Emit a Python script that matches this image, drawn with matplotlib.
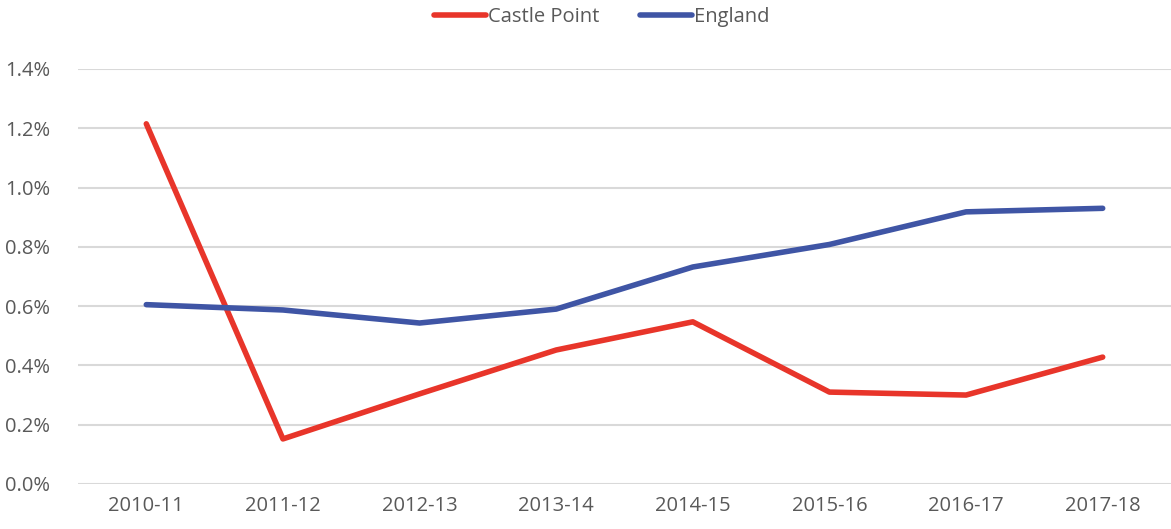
import matplotlib
matplotlib.use("Agg")
from matplotlib import pyplot as plt
from matplotlib.ticker import FuncFormatter

years = ["2010-11", "2011-12", "2012-13", "2013-14", "2014-15", "2015-16", "2016-17", "2017-18"]
castle_point = [1.215, 0.152, 0.304, 0.452, 0.547, 0.310, 0.300, 0.428]
england = [0.605, 0.587, 0.543, 0.590, 0.732, 0.808, 0.918, 0.930]

plt.rcParams['font.family'] = ['Open Sans', 'DejaVu Sans']
text_col = '#595959'

fig = plt.figure(figsize=(11.71, 5.29), dpi=100)
ax = fig.add_axes([0.0666, 0.0851, 0.9334, 0.7845])

x = range(len(years))
ax.plot(x, castle_point, color='#e8352a', lw=4, label="Castle Point", solid_capstyle='round')
ax.plot(x, england, color='#3f55a5', lw=4, label="England", solid_capstyle='round')

ax.set_xlim(-0.5, len(years) - 0.5)
ax.set_ylim(0, 1.4)
ax.set_yticks([i * 0.2 for i in range(8)])
ax.yaxis.set_major_formatter(FuncFormatter(lambda v, p: f"{v:.1f}%"))
ax.set_xticks(list(x))
ax.set_xticklabels(years)

ax.grid(axis='y', color='#d9d9d9', lw=1.5)
ax.set_axisbelow(True)
for s in ax.spines.values():
    s.set_visible(False)
ax.tick_params(length=0, labelsize=14.5, colors=text_col, pad=9)
ax.tick_params(axis='y', pad=20)

leg = ax.legend(loc='center', bbox_to_anchor=(0.479, 1.125), ncol=2, frameon=False,
                fontsize=14.5, handlelength=2.6, handletextpad=0.1, columnspacing=2.0)
for t in leg.get_texts():
    t.set_color(text_col)

plt.savefig("out.png", dpi=100)
